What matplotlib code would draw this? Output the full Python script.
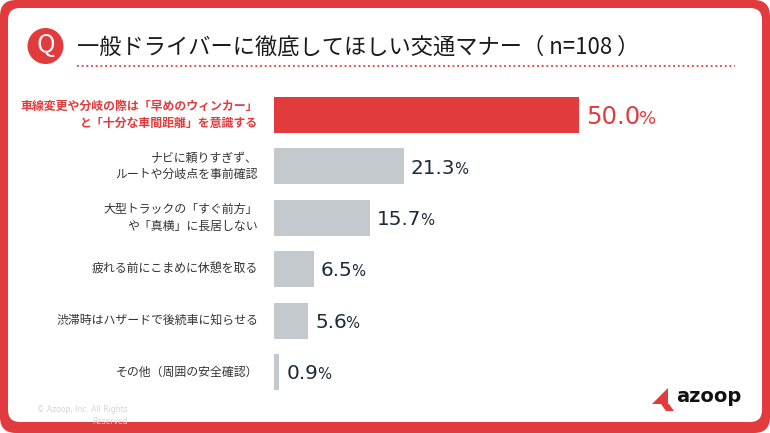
import matplotlib
matplotlib.use('Agg')
import matplotlib.pyplot as plt
from matplotlib.patches import FancyBboxPatch, Circle, Polygon

plt.rcParams['font.family'] = ['Noto Sans CJK JP', 'DejaVu Sans']

RED = '#e23b3e'
GRAY = '#c4c9ce'
NAVY = '#1b2a3c'
TXT = '#333333'

# データ
labels = [
    '車線変更や分岐の際は「早めのウィンカー」\nと「十分な車間距離」を意識する',
    'ナビに頼りすぎず、\nルートや分岐点を事前確認',
    '大型トラックの「すぐ前方」\nや「真横」に長居しない',
    '疲れる前にこまめに休憩を取る',
    '渋滞時はハザードで後続車に知らせる',
    'その他（周囲の安全確認）',
]
values = [50.0, 21.3, 15.7, 6.5, 5.6, 0.9]
title = '一般ドライバーに徹底してほしい交通マナー（ n=108 ）'

W, H = 770, 433
fig = plt.figure(figsize=(W / 100, H / 100), dpi=100, facecolor='white')

# 背景（枠・タイトル・ロゴ）はピクセル座標の軸に描く
bg = fig.add_axes([0, 0, 1, 1])
bg.set_xlim(0, W)
bg.set_ylim(H, 0)
bg.axis('off')

bg.add_patch(FancyBboxPatch((0, 0), W, H, boxstyle='round,pad=0,rounding_size=16',
                            fc=RED, ec='none'))
bg.add_patch(FancyBboxPatch((8, 8), W - 16, 414, boxstyle='round,pad=0,rounding_size=12',
                            fc='white', ec='none'))

bg.add_patch(Circle((45.5, 46), 18, fc=RED, ec='none'))
bg.text(45.5, 45, 'Q', color='white', fontsize=18, ha='center', va='center')
bg.text(77, 47, title, fontsize=16, color='#1a1a1a', ha='left', va='center')
bg.plot([77, 735], [66, 66], color=RED, lw=1.3, linestyle=(0, (1, 1.6)))

# ロゴ
bg.add_patch(Polygon([(652, 404), (668, 388), (668, 404)], closed=True, fc=RED, ec='none'))
bg.add_patch(Polygon([(661, 404), (669, 404), (674, 411), (666, 411)], closed=True,
                     fc=RED, ec='none'))
bg.text(676, 397, 'azoop', fontsize=14, fontweight='bold', color='#111111',
        ha='left', va='center', family='DejaVu Sans')
bg.text(128, 405, '© Azoop, Inc. All Rights\nReserved', fontsize=5.5, color='#d5d5d5',
        ha='right', va='top', family='DejaVu Sans', linespacing=1.5)

# 棒グラフ
ax = fig.add_axes([274 / W, 1 - 397.7 / H, 488 / W, (397.7 - 89.3) / H])
ax.set_xlim(0, 80)
ax.set_ylim(5.5, -0.5)
ax.axis('off')

ypos = list(range(len(values)))
colors = [RED] + [GRAY] * (len(values) - 1)
ax.barh(ypos, values, height=0.7, color=colors)

for i, (lab, v) in enumerate(zip(labels, values)):
    first = i == 0
    ax.annotate(lab, xy=(0, i), xytext=(-11.5, 0), textcoords='offset points',
                ha='right', va='center', fontsize=8.6, linespacing=1.35,
                color=RED if first else TXT, fontweight='bold' if first else 'normal')
    fs = 17.6 if first else 14.4
    c = RED if first else NAVY
    off = -6.3 if first else -5.2
    t = ax.annotate(f'{v:.1f}', xy=(v, i), xytext=(5, off), textcoords='offset points',
                    ha='left', va='baseline', fontsize=fs, color=c, family='DejaVu Sans')
    ax.annotate('%', xy=(1, i), xycoords=(t, 'data'), xytext=(-1, off),
                textcoords='offset points', ha='left', va='baseline',
                fontsize=fs * 0.74, color=c, family='DejaVu Sans')

fig.savefig('out.png', dpi=100, facecolor='white')
